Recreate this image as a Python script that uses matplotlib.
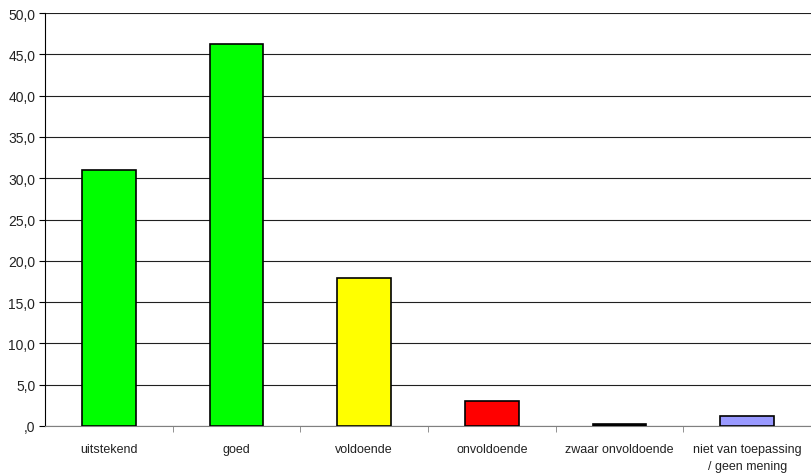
import matplotlib.pyplot as plt
import numpy as np

plt.rcParams['font.family'] = ['Liberation Sans', 'DejaVu Sans']

categories = ["uitstekend", "goed", "voldoende", "onvoldoende",
              "zwaar onvoldoende", "niet van toepassing\n/ geen mening"]
values = [31.0, 46.2, 17.9, 3.0, 0.2, 1.2]
colors = ["#00ff00", "#00ff00", "#ffff00", "#ff0000", "#000000", "#9999ff"]
yticks = np.arange(0, 55, 5)
ytick_labels = [",0"] + [f"{v:.1f}".replace(".", ",") for v in yticks[1:]]

fig = plt.figure(figsize=(8.11, 4.77), dpi=100)
ax = fig.add_axes([45 / 811, 50 / 477, 1 - 45 / 811, 413 / 477])

x = np.arange(len(categories))
ax.bar(x, values, width=0.42, color=colors, edgecolor="black", linewidth=1.2, zorder=3)

ax.set_xlim(-0.5, len(categories) - 0.5)
ax.set_ylim(0, 50)
ax.set_yticks(yticks)
ax.set_yticklabels(ytick_labels, fontsize=10, color="#222222")
ax.yaxis.grid(True, color="#202020", linewidth=0.8, zorder=0)

# category labels centred under the bars, ticks on the category boundaries
ax.set_xticks(x)
ax.set_xticklabels(categories, fontsize=9, linespacing=1.6, color="#222222")
ax.tick_params(axis="x", length=0, pad=12)
ax.set_xticks(np.arange(0.5, len(categories) - 0.5), minor=True)
ax.tick_params(axis="x", which="minor", length=4, color="#808080")
ax.tick_params(axis="y", length=4, color="black", pad=3)

for side in ["top", "right"]:
    ax.spines[side].set_visible(False)
ax.spines["bottom"].set_color("#808080")
ax.spines["left"].set_color("black")

fig.savefig("out.png", dpi=100)
